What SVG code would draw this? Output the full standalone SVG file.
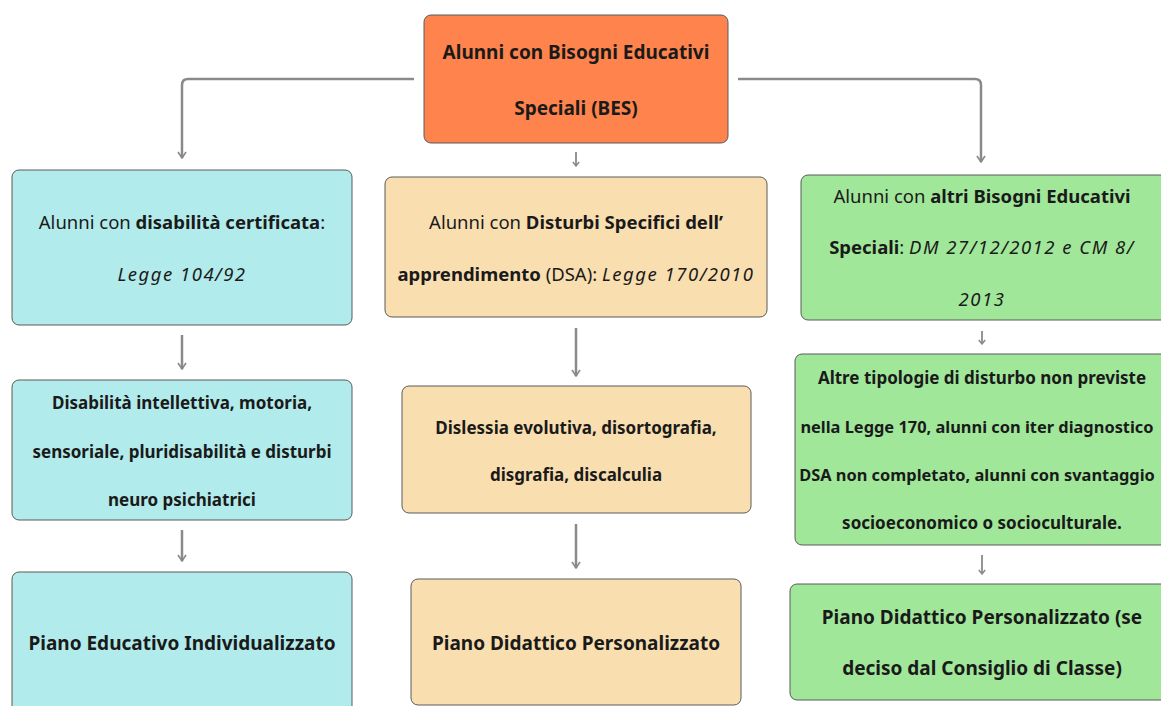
<svg xmlns="http://www.w3.org/2000/svg" width="1161" height="706" viewBox="0 0 1161 706">
<defs>
<marker id="arr" viewBox="0 0 10 10" refX="9" refY="5" markerWidth="10" markerHeight="10" markerUnits="userSpaceOnUse" orient="auto">
<path d="M3,1 L9,5 L3,9" fill="none" stroke="#888" stroke-width="1.6"/>
</marker>
<marker id="arrs" viewBox="0 0 10 10" refX="9" refY="5" markerWidth="8" markerHeight="8" markerUnits="userSpaceOnUse" orient="auto">
<path d="M4,1 L9,5 L4,9" fill="none" stroke="#888" stroke-width="1.8"/>
</marker>
</defs>
<style>
.box{stroke:#5a5a5a;stroke-width:1}
.or{fill:#ff834c}
.cy{fill:#b2ebeb}
.pe{fill:#f9deb0}
.gr{fill:#a1e79a}
text{font-family:"Noto Sans","Liberation Sans",sans-serif;font-size:17px;fill:#1a1a1a;text-anchor:middle}
.m{font-size:18.5px}
.b{font-weight:bold}
.i{font-style:italic;letter-spacing:1.5px}
.big{font-size:19px;font-weight:bold}
.bot{font-size:19px;font-weight:bold}
.fit{font-size:16.4px}
.con{fill:none;stroke:#8a8a8a;stroke-width:2.5}
.cons{fill:none;stroke:#8a8a8a;stroke-width:1.8}
</style>
<rect width="1161" height="706" fill="#ffffff"/>
<g id="connectors">
<path class="con" d="M414,79 H188 Q182,79 182,85 V158" marker-end="url(#arr)"/>
<path class="con" d="M738,79 H975 Q981,79 981,85 V162" marker-end="url(#arr)"/>
<path class="cons" d="M576,152 V166" marker-end="url(#arrs)"/>
<path class="con" d="M182,335 V369" marker-end="url(#arr)"/>
<path class="con" d="M182,530 V561" marker-end="url(#arr)"/>
<path class="con" d="M576,328 V376" marker-end="url(#arr)"/>
<path class="con" d="M576,524 V568" marker-end="url(#arr)"/>
<path class="cons" d="M982,331 V344" marker-end="url(#arrs)"/>
<path class="cons" d="M982,555 V574" marker-end="url(#arrs)"/>
</g>
<g id="n-bes">
<rect class="box or" x="424" y="15" width="304" height="128" rx="7"/>
<text class="big" x="576" y="59">Alunni con Bisogni Educativi</text>
<text class="big" x="576" y="115">Speciali (BES)</text>
</g>
<g id="n-disabilita">
<rect class="box cy" x="12" y="170" width="340" height="155" rx="7"/>
<text class="m" x="182" y="229">Alunni con <tspan class="b">disabilità certificata</tspan>:</text>
<text class="m i" x="182" y="281">Legge 104/92</text>
</g>
<g id="n-dsa">
<rect class="box pe" x="385" y="177" width="382" height="140" rx="7"/>
<text class="m" x="576" y="229">Alunni con <tspan class="b">Disturbi Specifici dell’</tspan></text>
<text class="m" x="576" y="281"><tspan class="b">apprendimento</tspan> (DSA): <tspan class="i">Legge 170/2010</tspan></text>
</g>
<g id="n-altri">
<rect class="box gr" x="801" y="175" width="368" height="145" rx="7"/>
<text class="m" x="982" y="203">Alunni con <tspan class="b">altri Bisogni Educativi</tspan></text>
<text class="m" x="982" y="254"><tspan class="b">Speciali</tspan>: <tspan class="i">DM 27/12/2012 e CM 8/</tspan></text>
<text class="m i" x="982" y="306">2013</text>
</g>
<g id="n-tipi-disabilita">
<rect class="box cy" x="12" y="380" width="340" height="140" rx="7"/>
<text class="b" x="182" y="409">Disabilità intellettiva, motoria,</text>
<text class="b" x="182" y="458">sensoriale, pluridisabilità e disturbi</text>
<text class="b" x="182" y="506">neuro psichiatrici</text>
</g>
<g id="n-tipi-dsa">
<rect class="box pe" x="402" y="386" width="349" height="127" rx="7"/>
<text class="b" x="576" y="434">Dislessia evolutiva, disortografia,</text>
<text class="b" x="576" y="481">disgrafia, discalculia</text>
</g>
<g id="n-tipi-altri">
<rect class="box gr" x="795" y="354" width="374" height="191" rx="7"/>
<text class="b" x="982" y="384">Altre tipologie di disturbo non previste</text>
<text class="b fit" x="977" y="433">nella Legge 170, alunni con iter diagnostico</text>
<text class="b fit" x="977" y="481">DSA non completato, alunni con svantaggio</text>
<text class="b" x="982" y="529">socioeconomico o socioculturale.</text>
</g>
<g id="n-pei">
<rect class="box cy" x="12" y="572" width="340" height="150" rx="7"/>
<text class="bot" x="182" y="650">Piano Educativo Individualizzato</text>
</g>
<g id="n-pdp-dsa">
<rect class="box pe" x="411" y="579" width="330" height="126" rx="7"/>
<text class="bot" x="576" y="650">Piano Didattico Personalizzato</text>
</g>
<g id="n-pdp-altri">
<rect class="box gr" x="790" y="584" width="379" height="116" rx="7"/>
<text class="bot" x="982" y="624">Piano Didattico Personalizzato (se</text>
<text class="bot" x="982" y="675">deciso dal Consiglio di Classe)</text>
</g>
</svg>
